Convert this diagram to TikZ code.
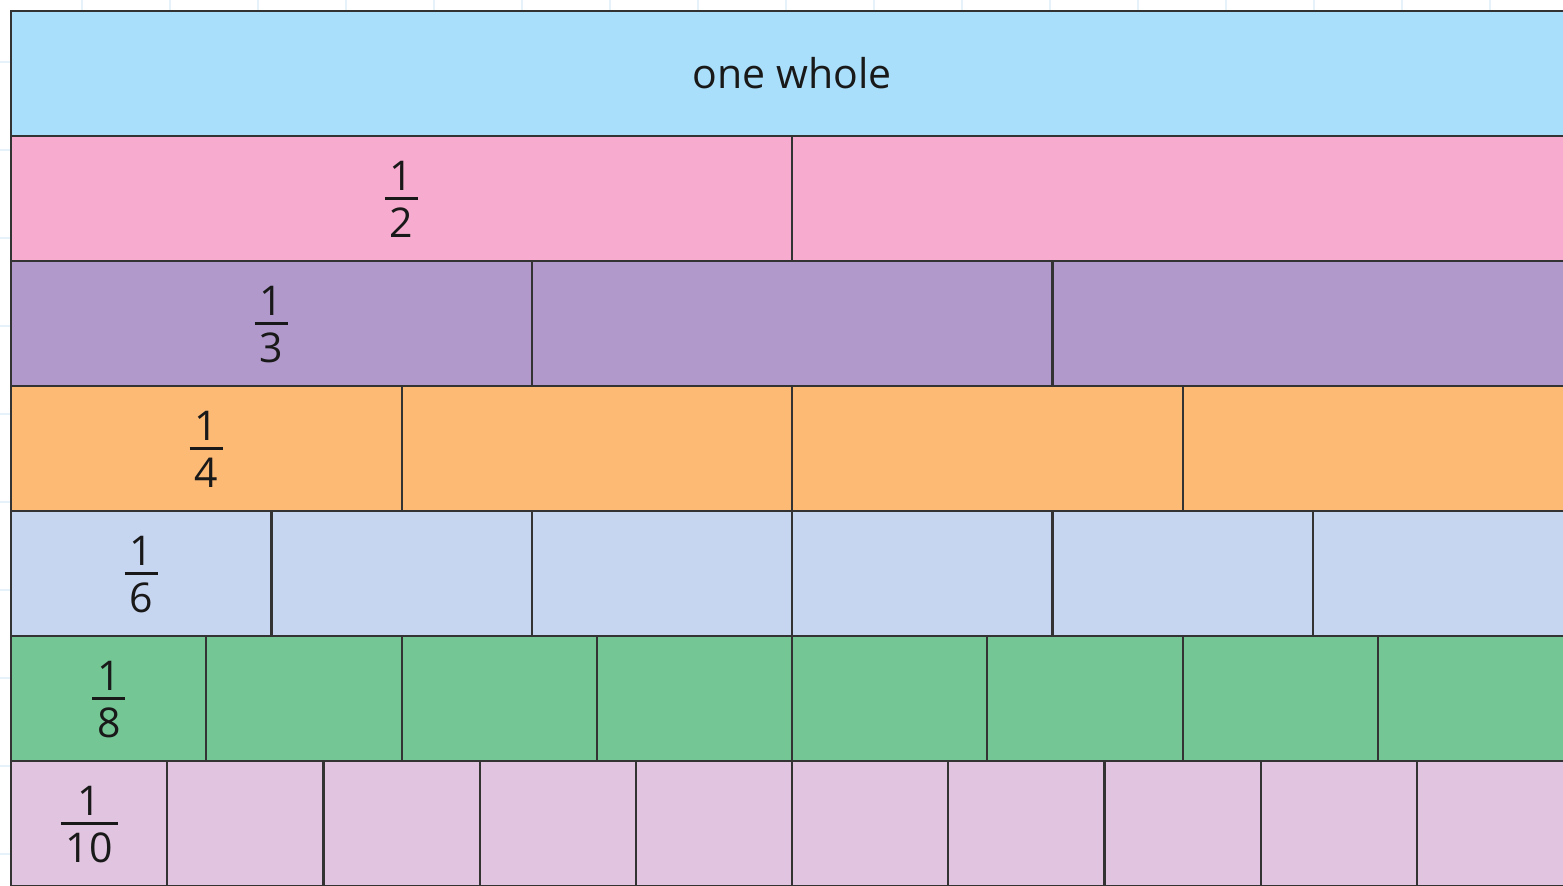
\documentclass[tikz,border=0pt]{standalone}
\usepackage{fontspec}
\setmainfont{Open Sans}
\definecolor{wholec}{HTML}{A9DFFA}
\definecolor{halfc}{HTML}{F7ACCF}
\definecolor{thirdc}{HTML}{B19ACB}
\definecolor{quarterc}{HTML}{FDBA74}
\definecolor{sixthc}{HTML}{C6D5F0}
\definecolor{eighthc}{HTML}{74C695}
\definecolor{tenthc}{HTML}{E1C4DF}
\definecolor{edgec}{HTML}{333333}
\definecolor{gridc}{HTML}{E6F2FA}
\newcommand\fracl[2]{\setbox0\hbox{#2}\begin{tabular}{@{}c@{}}#1\\[-19.5pt]\rule{\dimexpr\wd0+5pt\relax}{1.2pt}\\[-5pt]#2\end{tabular}}
\tikzset{
  cellbox/.style={draw=edgec, line width=1.1pt, inner sep=0pt, anchor=north west, minimum height=62.5pt},
  gridline/.style={draw=gridc, line width=0.6pt},
  lab/.style={font=\fontsize{20.5}{24}\selectfont, text=black!90, inner sep=0pt}
}
\begin{document}
\begin{tikzpicture}[x=0.5pt,y=-0.5pt]
\useasboundingbox (0,0) rectangle (1563,886);
\clip (0,0) rectangle (1563,886);
\fill[white] (0,0) rectangle (1563,886);
\foreach \x in {82,170,...,1563} \draw[gridline] (\x,0) -- (\x,886);
\foreach \y in {62,150,...,886} \draw[gridline] (0,\y) -- (1563,\y);
\foreach \n/\c [count=\r] in {1/wholec,2/halfc,3/thirdc,4/quarterc,6/sixthc,8/eighthc,10/tenthc}{
  \foreach \k in {1,...,\n}{
    \node[cellbox, fill=\c, minimum width={781pt/\n}] (r\r c\k) at ({10+(\k-1)*1562/\n},{10+(\r-1)*125}) {};
  }
}
\node[lab] (tw) at (r1c1) {one whole};
\node[lab, yshift=-3pt] (t2) at (r2c1) {\fracl{1}{2}};
\node[lab, yshift=-3pt] (t3) at (r3c1) {\fracl{1}{3}};
\node[lab, yshift=-3pt] (t4) at (r4c1) {\fracl{1}{4}};
\node[lab, yshift=-3pt] (t6) at (r5c1) {\fracl{1}{6}};
\node[lab, yshift=-3pt] (t8) at (r6c1) {\fracl{1}{8}};
\node[lab, yshift=-3pt] (t10) at (r7c1) {\fracl{1}{10}};
\end{tikzpicture}
\end{document}
